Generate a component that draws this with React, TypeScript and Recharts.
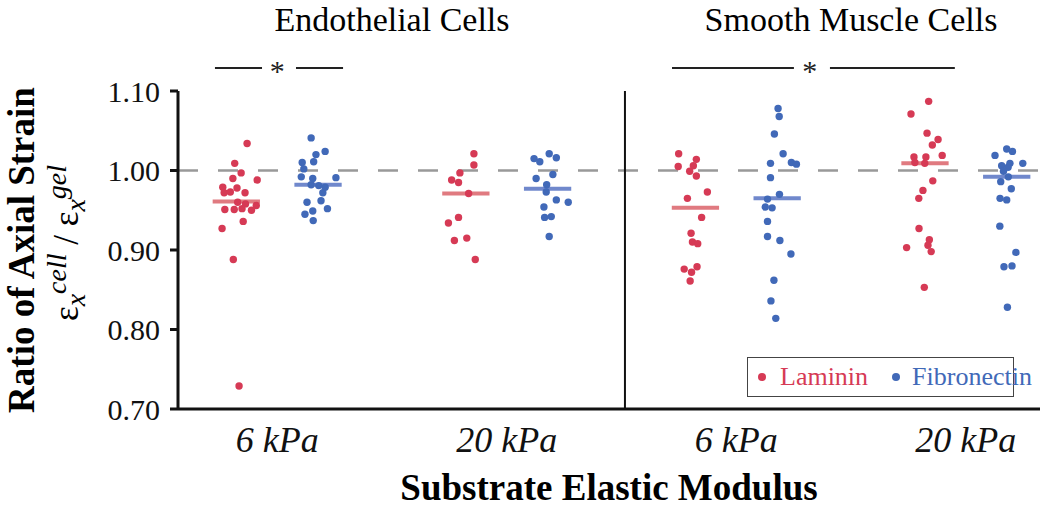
import React from "react";
import { ScatterChart, Scatter, XAxis, YAxis, ReferenceLine, ReferenceDot, Customized } from "recharts";

// category positions on the numeric x axis
const categories = [1, 2, 3, 4];
const categoryLabels = ["6 kPa", "20 kPa", "6 kPa", "20 kPa"];
const groupTitles = ["Endothelial Cells", "Smooth Muscle Cells"];

// [horizontal jitter, ratio]
const lamininEC6 = [
  [0.047, 1.034], [-0.007, 1.009], [0.021, 0.997], [-0.015, 0.99], [0.091, 0.988], [-0.059, 0.979],
  [0.003, 0.978], [-0.053, 0.972], [-0.026, 0.973], [0.038, 0.972], [0.006, 0.96], [0.04, 0.958],
  [0.087, 0.956], [-0.05, 0.951], [-0.009, 0.951], [0.025, 0.952], [0.066, 0.95], [0.03, 0.936],
  [-0.062, 0.927], [-0.013, 0.888], [0.012, 0.729],
];
const fibronectinEC6 = [
  [-0.03, 1.041], [0.031, 1.024], [-0.009, 1.02], [-0.069, 1.01], [-0.019, 1.011], [-0.062, 1.002],
  [-0.073, 0.992], [-0.023, 0.99], [0.078, 0.991], [-0.03, 0.982], [0.003, 0.981], [0.031, 0.979],
  [0.021, 0.972], [0.013, 0.962], [-0.048, 0.96], [0.041, 0.952], [-0.023, 0.949], [-0.057, 0.945],
  [-0.021, 0.937],
];
const lamininEC20 = [
  [0.035, 1.021], [0.035, 1.007], [-0.026, 0.997], [-0.062, 0.988], [-0.032, 0.985], [0.012, 0.971],
  [-0.032, 0.941], [-0.076, 0.934], [0.004, 0.915], [-0.05, 0.912], [0.041, 0.888],
];
const fibronectinEC20 = [
  [0.007, 1.021], [-0.059, 1.015], [0.038, 1.016], [-0.034, 1.011], [0.023, 0.995], [-0.05, 0.99],
  [-0.004, 0.982], [-0.006, 0.973], [0.038, 0.963], [0.09, 0.96], [-0.016, 0.954], [-0.013, 0.941],
  [0.016, 0.942], [0.007, 0.917],
];
const lamininSMC6 = [
  [-0.073, 1.021], [0.004, 1.014], [-0.075, 1.005], [-0.009, 1.006], [-0.025, 0.999], [0.004, 0.993],
  [0.052, 0.973], [-0.035, 0.965], [0.027, 0.941], [-0.019, 0.921], [-0.013, 0.91], [0.01, 0.908],
  [0.007, 0.879], [-0.049, 0.876], [-0.017, 0.872], [-0.023, 0.861],
];
const fibronectinSMC6 = [
  [0.004, 1.078], [0.009, 1.068], [-0.012, 1.046], [0.026, 1.021], [0.062, 1.01], [0.084, 1.008],
  [-0.029, 1.009], [-0.029, 0.991], [0.01, 0.97], [-0.042, 0.964], [-0.052, 0.954], [-0.022, 0.953],
  [-0.042, 0.936], [-0.042, 0.917], [0.012, 0.912], [0.06, 0.895], [-0.014, 0.862], [-0.027, 0.836],
  [-0.006, 0.814],
];
const lamininSMC20 = [
  [0.016, 1.087], [-0.061, 1.071], [0.009, 1.047], [0.057, 1.039], [0.032, 1.032], [0.075, 1.019],
  [-0.048, 1.017], [0.004, 1.017], [-0.044, 1.01], [-0.001, 1.009], [0.034, 0.987], [-0.009, 0.975],
  [-0.027, 0.965], [-0.026, 0.927], [0.019, 0.913], [0.013, 0.906], [-0.08, 0.903], [0.027, 0.898],
  [-0.003, 0.853],
];
const fibronectinSMC20 = [
  [-0.051, 1.019], [0, 1.027], [0.025, 1.024], [0.07, 1.009], [-0.022, 1.006], [0.014, 1.009],
  [0.006, 1.004], [-0.014, 0.999], [0.007, 0.992], [-0.026, 0.986], [0.02, 0.977], [-0.029, 0.965],
  [0, 0.963], [-0.03, 0.93], [0.04, 0.897], [-0.012, 0.879], [0.023, 0.88], [0.003, 0.828],
];
const lamininMeans = [0.961, 0.971, 0.953, 1.009];
const fibronectinMeans = [0.982, 0.977, 0.965, 0.992];

const yTicks = [0.7, 0.8, 0.9, 1.0, 1.1];

const RED = "#d63a55";
const BLUE = "#4169b8";
const FONT = "'Liberation Serif', 'Times New Roman', serif";
const SLOT = 0.178; // laminin left, fibronectin right of category
const HALF_BAR = 0.103;

const toPoints = (groups: number[][][], side: number) =>
  groups.flatMap((g, i) => g.map(([dx, y]) => ({ x: categories[i] + side * SLOT + dx, y })));

const lamininData = toPoints([lamininEC6, lamininEC20, lamininSMC6, lamininSMC20], -1);
const fibronectinData = toPoints([fibronectinEC6, fibronectinEC20, fibronectinSMC6, fibronectinSMC20], 1);

const Dot = (props: any) => <circle cx={props.cx} cy={props.cy} r={3.7} fill={props.fill} />;

const Star = (props: any) => {
  const { viewBox } = props;
  return (
    <text x={viewBox.x} y={viewBox.y + 13} textAnchor="middle" fontFamily={FONT} fontSize={30} fill="#222">
      *
    </text>
  );
};

const Decorations = () => (
  <g fontFamily={FONT} fill="#000">
    <text x={392} y={31} textAnchor="middle" fontSize={34}>{groupTitles[0]}</text>
    <text x={851} y={31} textAnchor="middle" fontSize={34}>{groupTitles[1]}</text>
    <text x={609} y={500} textAnchor="middle" fontSize={37} fontWeight="bold">Substrate Elastic Modulus</text>
    <text transform="translate(34,250) rotate(-90)" textAnchor="middle" fontSize={37} fontWeight="bold">
      Ratio of Axial Strain
    </text>
    <text transform="translate(78,243) rotate(-90)" textAnchor="middle" fontSize={35}>
      <tspan>ε</tspan>
      <tspan fontSize={28} fontStyle="italic" dy={7}>x</tspan>
      <tspan fontSize={28} fontStyle="italic" dy={-19}>cell</tspan>
      <tspan dy={12}> / ε</tspan>
      <tspan fontSize={28} fontStyle="italic" dy={7}>x</tspan>
      <tspan fontSize={28} fontStyle="italic" dy={-19}>gel</tspan>
    </text>
  </g>
);

export default function App() {
  return (
    <div style={{ position: "absolute", left: 0, top: 0, width: 1050, height: 507, background: "#fff" }}>
      <ScatterChart width={1050} height={507} margin={{ top: 91, right: 10, left: 0, bottom: 0 }}>
        <XAxis
          type="number"
          dataKey="x"
          domain={[0.568, 4.323]}
          ticks={categories}
          tickFormatter={(v: number) => categoryLabels[categories.indexOf(v)] ?? ""}
          tickLine={false}
          tickSize={0}
          tickMargin={17}
          height={98}
          axisLine={{ stroke: "#111", strokeWidth: 3 }}
          tick={{ fontFamily: FONT, fontSize: 36, fontStyle: "italic", fill: "#111" }}
          allowDataOverflow
        />
        <YAxis
          type="number"
          dataKey="y"
          domain={[0.7, 1.1]}
          ticks={yTicks}
          tickFormatter={(v: number) => v.toFixed(2)}
          width={178}
          tickSize={8}
          tickMargin={10}
          axisLine={{ stroke: "#111", strokeWidth: 3 }}
          tickLine={{ stroke: "#111", strokeWidth: 3 }}
          tick={{ fontFamily: FONT, fontSize: 30, fill: "#111" }}
          allowDataOverflow
        />
        <ReferenceLine y={1} stroke="#999" strokeWidth={2.5} strokeDasharray="20 20" />
        <ReferenceLine x={2.515} stroke="#111" strokeWidth={2} />
        <Scatter data={lamininData} fill={RED} shape={Dot} isAnimationActive={false} />
        <Scatter data={fibronectinData} fill={BLUE} shape={Dot} isAnimationActive={false} />
        {categories.map((c, i) => (
          <ReferenceLine
            key={"lm" + i}
            segment={[{ x: c - SLOT - HALF_BAR, y: lamininMeans[i] }, { x: c - SLOT + HALF_BAR, y: lamininMeans[i] }]}
            stroke="#e07a80"
            strokeWidth={4}
          />
        ))}
        {categories.map((c, i) => (
          <ReferenceLine
            key={"fm" + i}
            segment={[{ x: c + SLOT - HALF_BAR, y: fibronectinMeans[i] }, { x: c + SLOT + HALF_BAR, y: fibronectinMeans[i] }]}
            stroke="#7088cc"
            strokeWidth={4}
          />
        ))}
        {/* significance bars */}
        <ReferenceLine segment={[{ x: 0.729, y: 1.129 }, { x: 0.934, y: 1.129 }]} stroke="#222" strokeWidth={2} ifOverflow="visible" />
        <ReferenceLine segment={[{ x: 1.082, y: 1.129 }, { x: 1.287, y: 1.129 }]} stroke="#222" strokeWidth={2} ifOverflow="visible" />
        <ReferenceLine segment={[{ x: 2.72, y: 1.129 }, { x: 3.251, y: 1.129 }]} stroke="#222" strokeWidth={2} ifOverflow="visible" />
        <ReferenceLine segment={[{ x: 3.408, y: 1.129 }, { x: 3.952, y: 1.129 }]} stroke="#222" strokeWidth={2} ifOverflow="visible" />
        <ReferenceDot x={1.0} y={1.129} r={0} fill="none" stroke="none" ifOverflow="visible" label={<Star />} />
        <ReferenceDot x={3.32} y={1.129} r={0} fill="none" stroke="none" ifOverflow="visible" label={<Star />} />
        <Customized component={<Decorations />} />
      </ScatterChart>
      <div
        style={{
          position: "absolute",
          left: 747,
          top: 357,
          width: 267,
          height: 40,
          border: "1.5px solid #444",
          boxSizing: "border-box",
          fontFamily: FONT,
          fontSize: 26,
          display: "flex",
          alignItems: "center",
          background: "#fff",
        }}
      >
        <span style={{ display: "inline-block", flexShrink: 0, width: 8, height: 8, borderRadius: 4, background: RED, marginLeft: 10 }} />
        <span style={{ color: RED, marginLeft: 14 }}>Laminin</span>
        <span style={{ display: "inline-block", flexShrink: 0, width: 8, height: 8, borderRadius: 4, background: BLUE, marginLeft: 24 }} />
        <span style={{ color: BLUE, marginLeft: 12 }}>Fibronectin</span>
      </div>
    </div>
  );
}
